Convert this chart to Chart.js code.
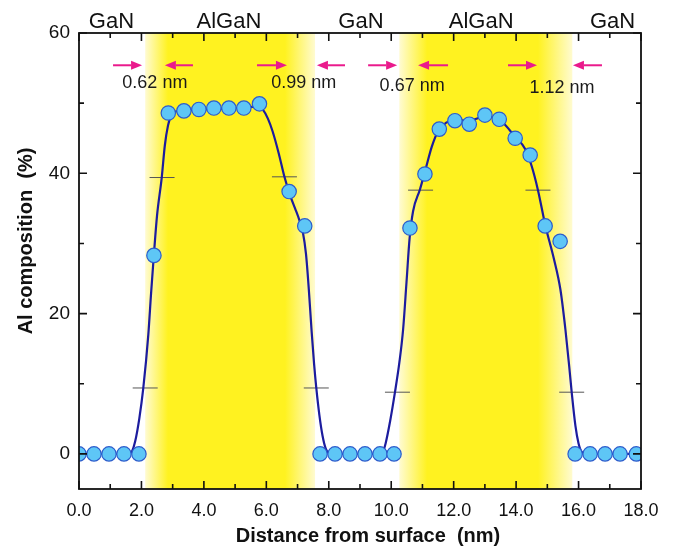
<!DOCTYPE html>
<html>
<head>
<meta charset="utf-8">
<script src="https://cdn.jsdelivr.net/npm/chart.js@4/dist/chart.umd.min.js"></script>
<style>
  html, body { margin: 0; padding: 0; background: #ffffff; }
  #wrap { width: 677px; height: 548px; position: relative; }
</style>
</head>
<body>
<div id="wrap"><canvas id="c" width="677" height="548"></canvas></div>
<script>
// ---- measured Al composition (circles) ----
const pointX = [0, 0.48, 0.96, 1.44, 1.92, 2.40, 2.86, 3.36, 3.84, 4.32, 4.80, 5.28, 5.78, 6.73, 7.23,
                7.72, 8.20, 8.68, 9.16, 9.64, 10.09, 10.60, 11.08, 11.54, 12.04, 12.50, 13.00, 13.46, 13.97,
                14.45, 14.93, 15.41, 15.89, 16.37, 16.85, 17.33, 17.85];
const pointY = [0, 0, 0, 0, 0, 28.3, 48.6, 48.9, 49.1, 49.3, 49.3, 49.3, 49.9, 37.4, 32.5,
                0, 0, 0, 0, 0, 0, 32.2, 39.9, 46.3, 47.5, 47.0, 48.3, 47.7, 45.0,
                42.6, 32.5, 30.3, 0, 0, 0, 0, 0];

// ---- fitted profile (blue curve) ----
const curveX = [0, 1.60, 1.70, 1.80, 1.93, 2.06, 2.22, 2.31, 2.40, 2.50, 2.65, 2.75, 2.85, 2.95, 3.10, 3.50,
                4.00, 5.00, 5.75, 5.90, 6.05, 6.20, 6.40, 6.58, 6.75, 6.92, 7.06, 7.17, 7.27, 7.36, 7.45,
                7.53, 7.60, 7.70, 7.80, 7.90, 8.00, 8.10,
                9.70, 9.82, 9.97, 10.12, 10.26, 10.38, 10.49, 10.59, 10.70, 10.92, 11.09, 11.30, 11.50,
                11.75, 12.00, 12.50, 13.00, 13.50, 13.97, 14.30, 14.50, 14.70, 14.94, 15.20, 15.42, 15.58,
                15.70, 15.78, 15.90, 16.00, 16.10, 16.25, 18.0];
const curveY = [0, 0, 0.4, 1.8, 5.0, 9.4, 17.0, 23.0, 28.5, 34.0, 39.4, 44.0, 46.8, 48.2, 48.8, 49.0,
                49.1, 49.3, 49.5, 49.0, 47.8, 46.0, 42.8, 39.5, 37.0, 35.0, 33.3, 31.6, 28.5, 23.5, 17.5,
                12.8, 9.4, 5.5, 2.6, 0.8, 0.1, 0,
                0, 1.5, 4.8, 8.8, 13.0, 17.7, 24.5, 30.8, 34.6, 37.7, 40.4, 43.8, 46.0,
                47.2, 47.6, 47.5, 48.1, 47.5, 45.2, 43.4, 41.0, 37.6, 32.5, 28.0, 23.4, 17.7,
                12.5, 8.8, 4.0, 1.5, 0.3, 0, 0];

// ---- 10% / 90% level marks ----
const markX = [2.12, 2.66, 6.58, 7.60, 10.20, 10.94, 14.70, 15.78];
const markY = [9.4, 39.4, 39.5, 9.4, 8.8, 37.6, 37.6, 8.8];

// ---- AlGaN layers (yellow bands): start, fully yellow, end of full, end ----
const bandStart = [2.12, 10.26];
const bandFull = [2.85, 11.15];
const bandFullEnd = [6.60, 14.70];
const bandEnd = [7.56, 15.80];

// ---- interface width arrows ----
const arrowFrom = [1.09, 3.65, 5.70, 8.52, 9.26, 11.82, 13.74, 16.75];
const arrowTo   = [2.02, 2.75, 6.66, 7.62, 10.19, 10.86, 14.67, 15.82];
const arrowY    = [55.4, 55.4, 55.4, 55.4, 55.4, 55.4, 55.4, 55.4];

const widthLabels = ['0.62 nm', '0.99 nm', '0.67 nm', '1.12 nm'];
const widthLabelX = [2.43, 7.20, 10.67, 15.47];
const widthLabelY = [52.9, 52.9, 52.5, 52.2];

// ---- layer names above the frame ----
const layerNames = ['GaN', 'AlGaN', 'GaN', 'AlGaN', 'GaN'];
const layerX = [1.04, 4.80, 9.03, 12.88, 17.09];

const xTickLabels = ['0.0', '2.0', '4.0', '6.0', '8.0', '10.0', '12.0', '14.0', '16.0', '18.0'];
const yTickLabels = ['0', '20', '40', '60'];

const FONT = "'Liberation Sans', Arial, Helvetica, sans-serif";

const xy = (xs, ys) => xs.map((x, i) => ({ x: x, y: ys[i] }));

const decor = {
  id: 'decor',
  beforeDatasetsDraw(chart) {
    const { ctx, chartArea: a, scales: { x } } = chart;
    ctx.save();
    ctx.beginPath();
    ctx.rect(a.left, a.top, a.right - a.left, a.bottom - a.top);
    ctx.clip();
    for (let i = 0; i < bandStart.length; i++) {
      const x0 = x.getPixelForValue(bandStart[i]);
      const x1 = x.getPixelForValue(bandFull[i]);
      const x2 = x.getPixelForValue(bandFullEnd[i]);
      const x3 = x.getPixelForValue(bandEnd[i]);
      const g = ctx.createLinearGradient(x0, 0, x3, 0);
      const w = x3 - x0;
      g.addColorStop(0, '#fffbd2');
      g.addColorStop((x1 - x0) / w, '#fff220');
      g.addColorStop((x2 - x0) / w, '#fff220');
      g.addColorStop(1, '#fffbd0');
      ctx.fillStyle = g;
      ctx.fillRect(x0, a.top, w, a.bottom - a.top);
    }
    ctx.restore();
  },
  afterDatasetsDraw(chart) {
    const { ctx, scales: { x, y } } = chart;
    ctx.save();
    ctx.strokeStyle = '#ea1a8c';
    ctx.fillStyle = '#ea1a8c';
    ctx.lineWidth = 2;
    for (let i = 0; i < arrowFrom.length; i++) {
      const xa = x.getPixelForValue(arrowFrom[i]);
      const xb = x.getPixelForValue(arrowTo[i]);
      const yy = y.getPixelForValue(arrowY[i]);
      const dir = xb > xa ? 1 : -1;
      const head = 11;
      ctx.beginPath();
      ctx.moveTo(xa, yy);
      ctx.lineTo(xb - dir * head, yy);
      ctx.stroke();
      ctx.beginPath();
      ctx.moveTo(xb, yy);
      ctx.lineTo(xb - dir * head, yy - 4.5);
      ctx.lineTo(xb - dir * head, yy + 4.5);
      ctx.closePath();
      ctx.fill();
    }
    ctx.fillStyle = '#1a1a1a';
    ctx.font = '18px ' + FONT;
    ctx.textAlign = 'center';
    ctx.textBaseline = 'middle';
    for (let i = 0; i < widthLabels.length; i++) {
      ctx.fillText(widthLabels[i], x.getPixelForValue(widthLabelX[i]), y.getPixelForValue(widthLabelY[i]));
    }
    ctx.restore();
  },
  afterDraw(chart) {
    const { ctx, chartArea: a, scales: { x, y } } = chart;
    ctx.save();
    ctx.strokeStyle = '#111';
    ctx.lineWidth = 1.6;
    // ticks inward on all four sides
    x.ticks.forEach(t => {
      const px = x.getPixelForValue(t.value);
      if (px < a.left - 0.5 || px > a.right + 0.5) return;
      const len = (Math.round(t.value) % 2 === 0) ? 8 : 5;
      ctx.beginPath();
      ctx.moveTo(px, a.bottom); ctx.lineTo(px, a.bottom - len);
      ctx.moveTo(px, a.top); ctx.lineTo(px, a.top + len);
      ctx.stroke();
    });
    y.ticks.forEach(t => {
      if (t.value < 0) return;
      const py = y.getPixelForValue(t.value);
      const len = (Math.round(t.value) % 20 === 0) ? 8 : 5;
      ctx.beginPath();
      ctx.moveTo(a.left, py); ctx.lineTo(a.left + len, py);
      ctx.moveTo(a.right, py); ctx.lineTo(a.right - len, py);
      ctx.stroke();
    });
    ctx.lineWidth = 1.8;
    ctx.strokeRect(a.left, a.top, a.right - a.left, a.bottom - a.top);
    // layer names
    ctx.fillStyle = '#111';
    ctx.font = '22px ' + FONT;
    ctx.textAlign = 'center';
    ctx.textBaseline = 'alphabetic';
    layerNames.forEach((n, i) => ctx.fillText(n, x.getPixelForValue(layerX[i]), a.top - 5));
    // axis titles
    ctx.font = 'bold 20px ' + FONT;
    ctx.textBaseline = 'middle';
    ctx.fillText('Distance from surface  (nm)', (a.left + a.right) / 2 + 8, 536);
    ctx.translate(26, (a.top + a.bottom) / 2 - 20);
    ctx.rotate(-Math.PI / 2);
    ctx.fillText('Al composition  (%)', 0, 0);
    ctx.restore();
  }
};

new Chart(document.getElementById('c'), {
  type: 'scatter',
  data: {
    datasets: [
      {
        label: 'measured',
        data: xy(pointX, pointY),
        showLine: false,
        pointRadius: 7.2,
        pointHoverRadius: 7.2,
        pointBackgroundColor: '#5ec6f6',
        pointBorderColor: '#2c5ccc',
        pointBorderWidth: 1.2
      },
      {
        label: 'fit',
        type: 'line',
        data: xy(curveX, curveY),
        borderColor: '#1c1c9e',
        borderWidth: 2.2,
        pointRadius: 0,
        fill: false,
        cubicInterpolationMode: 'monotone'
      },
      {
        label: 'levels',
        data: xy(markX, markY),
        showLine: false,
        pointStyle: 'line',
        pointRadius: 12.5,
        pointHoverRadius: 12.5,
        pointBorderColor: '#555',
        pointBorderWidth: 1
      }
    ]
  },
  options: {
    responsive: false,
    animation: false,
    events: [],
    layout: { padding: { top: 33, right: 36, left: 0, bottom: 0 } },
    plugins: { legend: { display: false }, tooltip: { enabled: false } },
    scales: {
      x: {
        type: 'linear',
        min: 0, max: 18,
        grid: { display: false, drawTicks: false },
        border: { display: false },
        afterFit: s => { s.height = 59; },
        ticks: {
          stepSize: 1,
          autoSkip: false,
          maxRotation: 0,
          padding: 11,
          color: '#111',
          font: { family: FONT, size: 18 },
          callback: v => (Math.round(v) % 2 === 0 ? xTickLabels[Math.round(v) / 2] : '')
        }
      },
      y: {
        type: 'linear',
        min: -5, max: 60,
        grid: { display: false, drawTicks: false },
        border: { display: false },
        afterFit: s => { s.width = 79; },
        ticks: {
          stepSize: 10,
          autoSkip: false,
          padding: 9,
          color: '#111',
          font: { family: FONT, size: 19 },
          callback: v => (v >= 0 && v % 20 === 0 ? yTickLabels[v / 20] : '')
        }
      }
    }
  },
  plugins: [decor]
});
</script>
</body>
</html>
